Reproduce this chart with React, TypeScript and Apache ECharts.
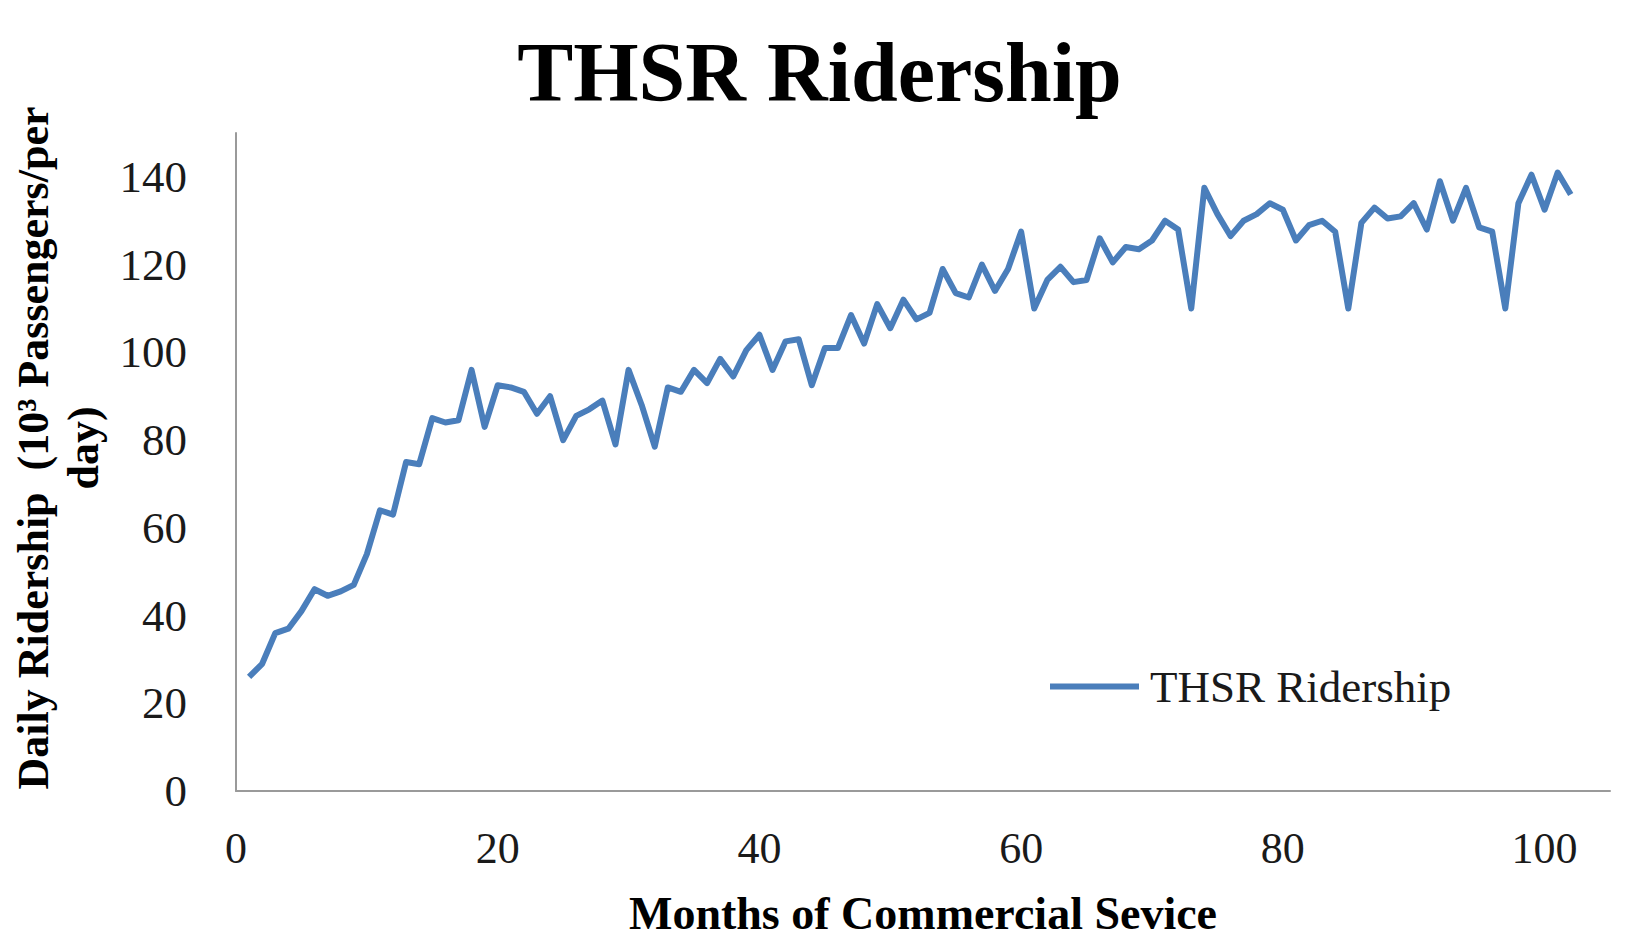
import React, { useEffect, useRef } from "react";
import * as echarts from "echarts";

const TITLE = "THSR Ridership";
const SERIES_NAME = "THSR Ridership";
const X_NAME = "Months of Commercial Sevice";
const Y_NAME = "Daily Ridership  (10³ Passengers/per\nday)";

// Daily ridership (10^3 passengers/day), months 1..102
const ridership: number[] = [
  26, 29, 36, 37, 41, 46, 44.5, 45.5, 47, 54,
  64, 63, 75, 74.5, 85, 84, 84.5, 96, 83, 92.5,
  92, 91, 86, 90, 80, 85.5, 87, 89, 79, 96,
  88, 78.5, 92, 91, 96, 93, 98.5, 94.5, 100.5, 104,
  96, 102.5, 103, 92.5, 101, 101, 108.5, 102, 111, 105.5,
  112, 107.5, 109, 119, 113.5, 112.5, 120, 114, 119, 127.5,
  110, 116.5, 119.5, 116, 116.5, 126, 120.5, 124, 123.5, 125.5,
  130, 128, 110, 137.5, 131.5, 126.5, 130, 131.5, 134, 132.5,
  125.5, 129, 130, 127.5, 110, 129.5, 133, 130.5, 131, 134,
  128, 139, 130, 137.5, 128.5, 127.5, 110, 134, 140.5, 132.5,
  141, 136,
];

const FONT = "'Liberation Serif', 'Times New Roman', serif";
const LINE_COLOR = "#4a7ebb";
const AXIS_COLOR = "#9a9a9a";

export default function App() {
  const ref = useRef<HTMLDivElement>(null);

  useEffect(() => {
    if (!ref.current) return;
    const chart = echarts.init(ref.current, undefined, { renderer: "svg" });
    const data = ridership.map((v, i) => [i + 1, v]);
    chart.setOption({
      animation: false,
      backgroundColor: "#ffffff",
      title: {
        text: TITLE,
        left: "center",
        top: 25,
        textStyle: {
          fontFamily: FONT,
          fontWeight: "bold",
          fontSize: 84,
          color: "#000000",
        },
      },
      legend: {
        left: 1045,
        top: 659,
        icon: "rect",
        itemWidth: 89,
        itemHeight: 6,
        data: [SERIES_NAME],
        textStyle: {
          fontFamily: FONT,
          fontSize: 45,
          color: "#1a1a1a",
          padding: [0, 0, 0, 6],
        },
      },
      grid: {
        left: 227,
        right: 29,
        top: 133,
        bottom: 136,
        containLabel: false,
      },
      xAxis: {
        type: "value",
        min: 0,
        max: 105,
        interval: 20,
        name: X_NAME,
        nameLocation: "middle",
        nameGap: 99,
        nameTextStyle: {
          fontFamily: FONT,
          fontWeight: "bold",
          fontSize: 46,
          color: "#000000",
        },
        axisLine: { show: true, lineStyle: { color: AXIS_COLOR, width: 2 } },
        axisTick: { show: false },
        splitLine: { show: false },
        axisLabel: {
          showMaxLabel: false,
          margin: 35,
          fontFamily: FONT,
          fontSize: 44,
          color: "#1a1a1a",
        },
      },
      yAxis: {
        type: "value",
        min: 0,
        max: 150,
        interval: 20,
        name: Y_NAME,
        nameLocation: "middle",
        nameRotate: 90,
        nameGap: 128,
        nameTextStyle: {
          fontFamily: FONT,
          fontWeight: "bold",
          fontSize: 44,
          color: "#000000",
          lineHeight: 50,
          align: "center",
          padding: [0, 0, 0, 28],
        },
        axisLine: { show: true, lineStyle: { color: AXIS_COLOR, width: 2 } },
        axisTick: { show: false },
        splitLine: { show: false },
        axisLabel: {
          showMaxLabel: false,
          margin: 49,
          fontFamily: FONT,
          fontSize: 45,
          color: "#1a1a1a",
        },
      },
      series: [
        {
          name: SERIES_NAME,
          type: "line",
          data,
          showSymbol: false,
          symbol: "none",
          color: LINE_COLOR,
          lineStyle: { color: LINE_COLOR, width: 6, join: "round" },
        },
      ],
    });
    return () => chart.dispose();
  }, []);

  return (
    <div
      ref={ref}
      style={{ position: "fixed", left: 0, top: 0, width: 1639, height: 941 }}
    />
  );
}
